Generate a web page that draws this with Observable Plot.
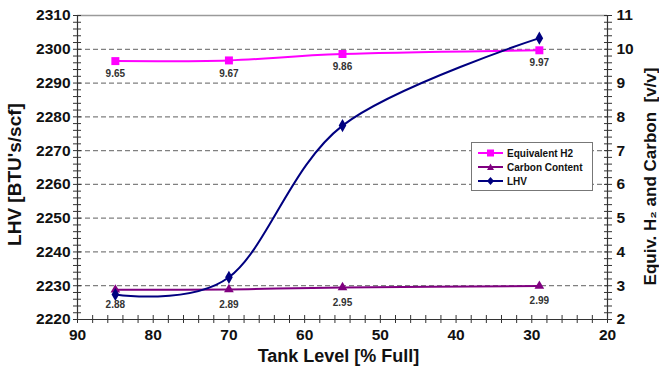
<!DOCTYPE html>
<html><head><meta charset="utf-8">
<script src="https://cdn.jsdelivr.net/npm/d3@7"></script>
<script src="https://cdn.jsdelivr.net/npm/@observablehq/plot@0.6"></script>
<style>
body{margin:0;background:#fff;font-family:"Liberation Sans",Arial,sans-serif;}
#wrap{position:relative;width:659px;height:373px;}
#legend{position:absolute;left:471px;top:142px;width:122px;height:49px;border:1px solid #777;background:#fff;box-sizing:border-box;font:bold 10px "Liberation Sans",Arial,sans-serif;color:#111;padding-top:3px;}
.row{display:flex;align-items:center;height:14px;padding-left:6px;}
.row svg{margin-right:4px;}
</style></head>
<body><div id="wrap"><div id="chart"></div><div id="legend"></div></div>
<script>
// ---- data ----
const tankLevel = [85, 70, 55, 29];
const lhvValues = [2227.4, 2232.5, 2277.4, 2303.3];
const equivH2 = [9.65, 9.67, 9.86, 9.97];
const carbonContent = [2.88, 2.89, 2.95, 2.99];
const seriesNames = ["Equivalent H2", "Carbon Content", "LHV"];
const seriesColors = ["#ff00ff", "#800080", "#000080"];
const seriesSymbols = ["square", "triangle", "diamond"];
const xTicks = [90, 80, 70, 60, 50, 40, 30, 20];
const leftTicks = [2220, 2230, 2240, 2250, 2260, 2270, 2280, 2290, 2300, 2310];
const rightTicks = [2, 3, 4, 5, 6, 7, 8, 9, 10, 11];

// right axis (2..11) mapped onto left axis (2220..2310)
const toLeft = v => 2220 + (v - 2) * 10;
const fromLeft = y => (y - 2220) / 10 + 2;

const rows = tankLevel.map((x, i) => ({x, lhv: lhvValues[i], h2: equivH2[i], c: carbonContent[i]}));
const xMinor = d3.range(90, 19, -2);
const yMinor = d3.range(2220, 2311, 2);
const F = "Liberation Sans, Arial, sans-serif";
const B = "bold";

const plot = Plot.plot({
  width: 659, height: 373,
  marginLeft: 77, marginRight: 52, marginTop: 15, marginBottom: 54,
  style: {fontFamily: F, fontWeight: "bold", fontSize: "15px", color: "#111", background: "transparent", overflow: "visible"},
  x: {domain: [90, 20]},
  y: {domain: [2220, 2310]},
  marks: [
    Plot.gridY(leftTicks.slice(1, -1), {stroke: "#808080", strokeOpacity: 1, strokeDasharray: "5,3", strokeWidth: 1.3}),
    Plot.ruleY([2310], {stroke: "#9a9a9a", strokeWidth: 1.5}),
    // minor/major tick marks straddling axes
    Plot.axisX(xMinor, {anchor: "bottom", tickSize: 8, dy: -4, tickFormat: () => "", stroke: "#333", label: null}),
    Plot.axisY(yMinor, {anchor: "left", tickSize: 8, dx: 4, tickFormat: () => "", stroke: "#333", label: null}),
    Plot.axisY(yMinor, {anchor: "right", tickSize: 8, dx: -4, tickFormat: () => "", stroke: "#333", label: null}),
    // tick labels
    Plot.axisX(xTicks, {anchor: "bottom", tickSize: 0, tickPadding: 9, fontSize: 15.5, fontWeight: B, fill: "#111", label: null, tickFormat: d => String(d)}),
    Plot.axisY(leftTicks, {anchor: "left", tickSize: 0, tickPadding: 7, fontSize: 15.5, fontWeight: B, fill: "#111", label: null, tickFormat: d => String(d)}),
    Plot.axisY(leftTicks, {anchor: "right", tickSize: 0, tickPadding: 9, fontSize: 15.5, fontWeight: B, fill: "#111", label: null, tickFormat: d => String(fromLeft(d))}),
    // axis lines
    Plot.ruleX([90], {stroke: "#333", strokeWidth: 1.2}),
    Plot.ruleX([20], {stroke: "#333", strokeWidth: 1.2}),
    Plot.ruleY([2220], {stroke: "#333", strokeWidth: 1.2}),
    // series
    Plot.line(rows, {x: "x", y: d => toLeft(d.h2), stroke: seriesColors[0], strokeWidth: 2, curve: "cardinal"}),
    Plot.line(rows, {x: "x", y: d => toLeft(d.c), stroke: seriesColors[1], strokeWidth: 2, curve: "cardinal"}),
    Plot.line(rows, {x: "x", y: "lhv", stroke: seriesColors[2], strokeWidth: 2, curve: "cardinal"}),
    Plot.dot(rows, {x: "x", y: d => toLeft(d.h2), symbol: "square", r: 4.5, fill: seriesColors[0], stroke: "none"}),
    Plot.dot(rows, {x: "x", y: d => toLeft(d.c), symbol: "triangle", r: 3.6, fill: seriesColors[1], stroke: "none"}),
    Plot.dot(rows, {x: "x", y: "lhv", symbol: "diamond", r: 4, fill: seriesColors[2], stroke: "none"}),
    // data labels
    Plot.text(rows, {x: "x", y: d => toLeft(d.h2), text: d => d.h2.toFixed(2), dy: 13, fontSize: 10, fontWeight: B, fill: "#333"}),
    Plot.text(rows, {x: "x", y: d => toLeft(d.c), text: d => d.c.toFixed(2), dy: 15, fontSize: 10, fontWeight: B, fill: "#333"}),
    // axis titles
    Plot.text(["LHV [BTU's/scf]"], {frameAnchor: "left", textAnchor: "middle", dx: -63, dy: 7, rotate: -90, fontSize: 19, fontWeight: B, fill: "#111"}),
    Plot.text(["Equiv. H\u2082 and Carbon  [v/v]"], {frameAnchor: "right", textAnchor: "middle", dx: 43, dy: 9, rotate: -90, fontSize: 17, fontWeight: B, fill: "#111"}),
    Plot.text(["Tank Level [% Full]"], {frameAnchor: "bottom", textAnchor: "middle", dx: -4, dy: 42, fontSize: 18, fontWeight: B, fill: "#111"})
  ]
});
document.getElementById("chart").appendChild(plot);

// legend
const shapes = {
  square: '<rect x="9" y="1.5" width="7" height="7"/>',
  triangle: '<polygon points="12.5,1.5 16,8 9,8"/>',
  diamond: '<polygon points="12.5,1 16,5 12.5,9 9,5"/>'
};
const leg = document.getElementById("legend");
seriesNames.forEach((n, i) => {
  const r = document.createElement("div");
  r.className = "row";
  r.innerHTML = `<svg width="25" height="10"><line x1="0" x2="25" y1="5" y2="5" stroke="${seriesColors[i]}" stroke-width="2"/><g fill="${seriesColors[i]}">${shapes[seriesSymbols[i]]}</g></svg><span>${n}</span>`;
  leg.appendChild(r);
});
</script></body></html>
